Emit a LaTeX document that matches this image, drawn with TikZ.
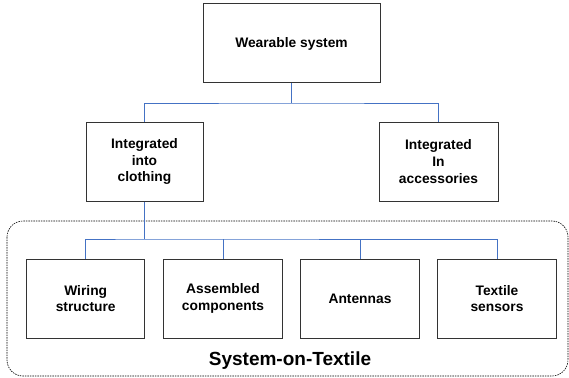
\documentclass[tikz,border=0pt]{standalone}
\usepackage{fontspec}
\setmainfont{Liberation Sans}
\begin{document}
\begin{tikzpicture}[x=1pt,y=-1pt,
  box/.style={draw=black!80,line width=1pt,minimum height=79pt,inner sep=0pt,align=center,
    font=\fontsize{13.8}{16.7}\selectfont\bfseries},
  link/.style={draw={rgb,255:red,68;green,114;blue,196},line width=0.9pt}]
\useasboundingbox (0,0) rectangle (569,377);
\draw[dash pattern=on 1.5pt off 1pt,line width=0.6pt,rounded corners=16pt] (7,221) rectangle (568,376);
\node[box,minimum width=177pt] (top) at (291.5,43.5) {Wearable system};
\node[box,minimum width=117pt] (cloth) at (144.5,161.5) {Integrated\\into\\clothing};
\node[box,minimum width=119pt] (acc) at (438.5,161.5) {Integrated\\In\\accessories};
\node[box,minimum width=118.5pt] (wir) at (85.7,298.5) {Wiring\\structure};
\node[box,minimum width=118.5pt] (asm) at (223,298.5) {Assembled\\components};
\node[box,minimum width=118.5pt] (ant) at (360,298.5) {Antennas};
\node[box,minimum width=118.5pt] (tex) at (497,298.5) {Textile\\sensors};
\node[font=\fontsize{19}{21}\selectfont\bfseries] (sot) at (290,361) {System-on-Textile};
\coordinate (j1) at (291.5,103);
\coordinate (j2) at (144.5,239);
\draw[link] (top.south) -- (j1);
\draw[link] (cloth.north) |- (j1) -| (acc.north);
\draw[link] (cloth.south) -- (j2);
\draw[link] (wir.north) |- (j2) -| (tex.north);
\draw[link] (asm.north) -- (asm.north |- j2);
\draw[link] (ant.north) -- (ant.north |- j2);
\end{tikzpicture}
\end{document}
